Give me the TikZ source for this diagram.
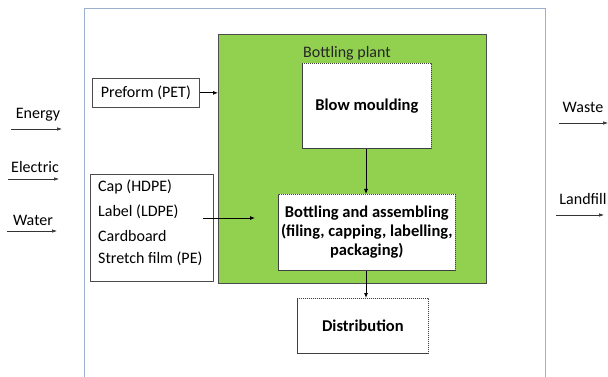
\documentclass[tikz,border=0pt]{standalone}
\usepackage{fontspec}
\setmainfont{Carlito}
\usetikzlibrary{arrows.meta}
\definecolor{plantgreen}{HTML}{92D050}
\definecolor{frameblue}{HTML}{9AB0CC}
\tikzset{
  lbl/.style={font=\fontsize{16}{18}\selectfont, inner sep=0pt},
  inbox/.style={draw=black!70, line width=0.7pt, fill=white, font=\fontsize{16}{18}\selectfont, inner sep=0pt},
  dbox/.style={draw=black!75, dash pattern=on 1.2pt off 0.8pt, line width=0.7pt, fill=white, inner sep=0pt, font=\bfseries\fontsize{16.5}{19}\selectfont, align=center},
  arr/.style={-{Latex[length=5pt,width=4pt]}, line width=0.8pt},
  thinarr/.style={-{Latex[length=5pt,width=3.5pt]}, line width=0.6pt, black!80}
}
\begin{document}
\begin{tikzpicture}[x=1pt,y=-1pt]
\useasboundingbox (0,0) rectangle (608,377);
% outer frame
\draw[frameblue, line width=1pt] (84,377) -- (84,9) -- (545,9) -- (545,377);
% green plant
\node[draw=black!70, line width=0.8pt, fill=plantgreen, minimum width=268pt, minimum height=249pt, anchor=north west, inner sep=0pt] (plant) at (218,34) {};
\node[lbl, text=black!85] (plantlbl) at (347,53) {Bottling plant};
% boxes
\node[dbox, minimum width=129pt, minimum height=85pt, anchor=north west] (blow) at (302,63) {Blow moulding};
\node[dbox, minimum width=177pt, minimum height=76pt, anchor=north west] (bott) at (278,194) {Bottling and assembling\\(filing, capping, labelling,\\packaging)};
\node[dbox, minimum width=131pt, minimum height=55pt, anchor=north west] (dist) at (297,298) {Distribution};
\node[inbox, minimum width=107pt, minimum height=29pt, anchor=north west] (pre) at (92,78) {Preform (PET)};
\node[inbox, minimum width=123pt, minimum height=107pt, anchor=north west] (cap) at (90,174) {};
\node[lbl, anchor=west] (c1) at (98,187) {Cap (HDPE)};
\node[lbl, anchor=west] (c2) at (98,212) {Label (LDPE)};
\node[lbl, anchor=west] (c3) at (98,236) {Cardboard};
\node[lbl, anchor=west] (c4) at (98,259) {Stretch film (PE)};
\coordinate (capout) at (203,218);
\coordinate (capin) at (255,218);
% arrows
\draw[arr] (pre.east) -- (pre.east -| plant.west);
\draw[arr] (capout) -- (capin);
\draw[arr] (blow.south -| 366,0) -- (bott.north -| 366,0);
\draw[arr] (bott.south -| 366,0) -- (dist.north -| 366,0);
% left inputs
\node[lbl] (en) at (38,115) {Energy};
\coordinate (en1) at (11,129); \coordinate (en2) at (62,129);
\draw[thinarr] (en1) -- (en2);
\node[lbl] (el) at (35,167) {Electric};
\coordinate (el1) at (8,179); \coordinate (el2) at (59,179);
\draw[thinarr] (el1) -- (el2);
\node[lbl] (wa) at (33,220) {Water};
\coordinate (wa1) at (7,231); \coordinate (wa2) at (57,231);
\draw[thinarr] (wa1) -- (wa2);
% right outputs
\node[lbl] (ws) at (583,107) {Waste};
\coordinate (ws1) at (559,123); \coordinate (ws2) at (608,123);
\draw[thinarr] (ws1) -- (ws2);
\node[lbl] (lf) at (583,199) {Landfill};
\coordinate (lf1) at (556,215); \coordinate (lf2) at (604,215);
\draw[thinarr] (lf1) -- (lf2);
\end{tikzpicture}
\end{document}
